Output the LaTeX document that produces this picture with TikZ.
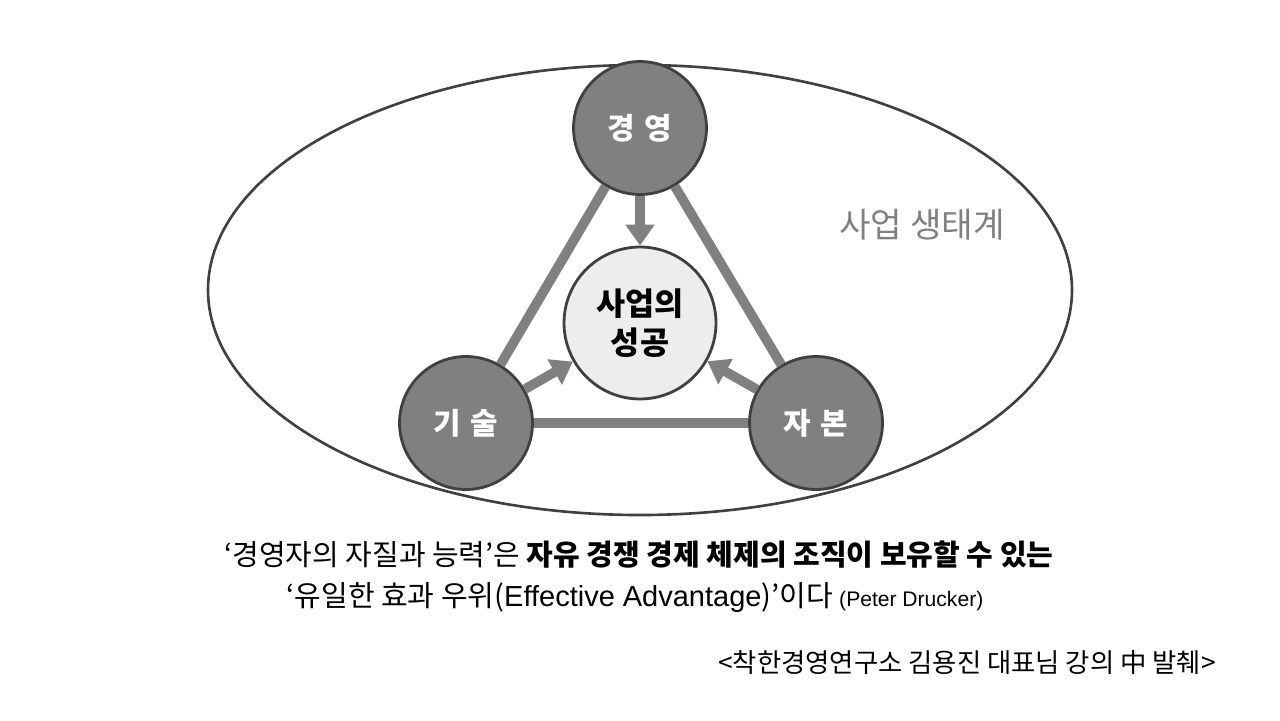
\documentclass[tikz,border=0pt]{standalone}
\usepackage{fontspec}
\setmainfont{Noto Sans CJK KR}
\newfontfamily\latinf{Liberation Sans}
\usetikzlibrary{arrows.meta}
\begin{document}
\begin{tikzpicture}[x=0.02cm,y=-0.02cm,
  outer/.style={circle,draw=black!75,line width=1.6pt,fill=black!50,minimum size=2.66cm,text=white,font=\fontsize{17}{19}\selectfont\bfseries},
  link/.style={draw=black!50,line width=5.5pt},
  arr/.style={draw=black!50,line width=5.5pt,-{Triangle[length=12pt,width=16pt]}}]
\useasboundingbox (0,0) rectangle (1280,720);
\draw[black!75,line width=1.5pt] (640,290) ellipse [x radius=432, y radius=225];
\node[outer] (t) at (640,128) {경\,\,영};
\node[outer] (l) at (466,423) {기\,\,술};
\node[outer] (r) at (816,423) {자\,\,본};
\node[circle,draw=black!75,line width=1.6pt,fill=black!7,minimum size=3.04cm,align=center,font=\fontsize{18}{22}\selectfont\bfseries] (c) at (640,323) {사업의\\성공};
\draw[link] (t) -- (l);
\draw[link] (t) -- (r);
\draw[link] (l) -- (r);
\draw[arr] (t) -- (c);
\draw[arr] (l) -- (c);
\draw[arr] (r) -- (c);
\node[text=black!50,font=\fontsize{19.5}{22}\selectfont] (eco) at (922,225) {사업 생태계};
\node[font=\fontsize{16.5}{19}\selectfont] (q1) at (639,555) {‘경영자의 자질과 능력’은 \textbf{자유 경쟁 경제 체제의 조직이 보유할 수 있는}};
\node[font=\fontsize{16.5}{19}\selectfont] (q2) at (635,598) {‘유일한 효과 우위({\latinf Effective Advantage})’이다 {\latinf\fontsize{12}{14}\selectfont (Peter Drucker)}};
\node[font=\fontsize{15}{17}\selectfont] (src) at (967,662) {<착한경영연구소 김용진 대표님 강의 中 발췌>};
\end{tikzpicture}
\end{document}
